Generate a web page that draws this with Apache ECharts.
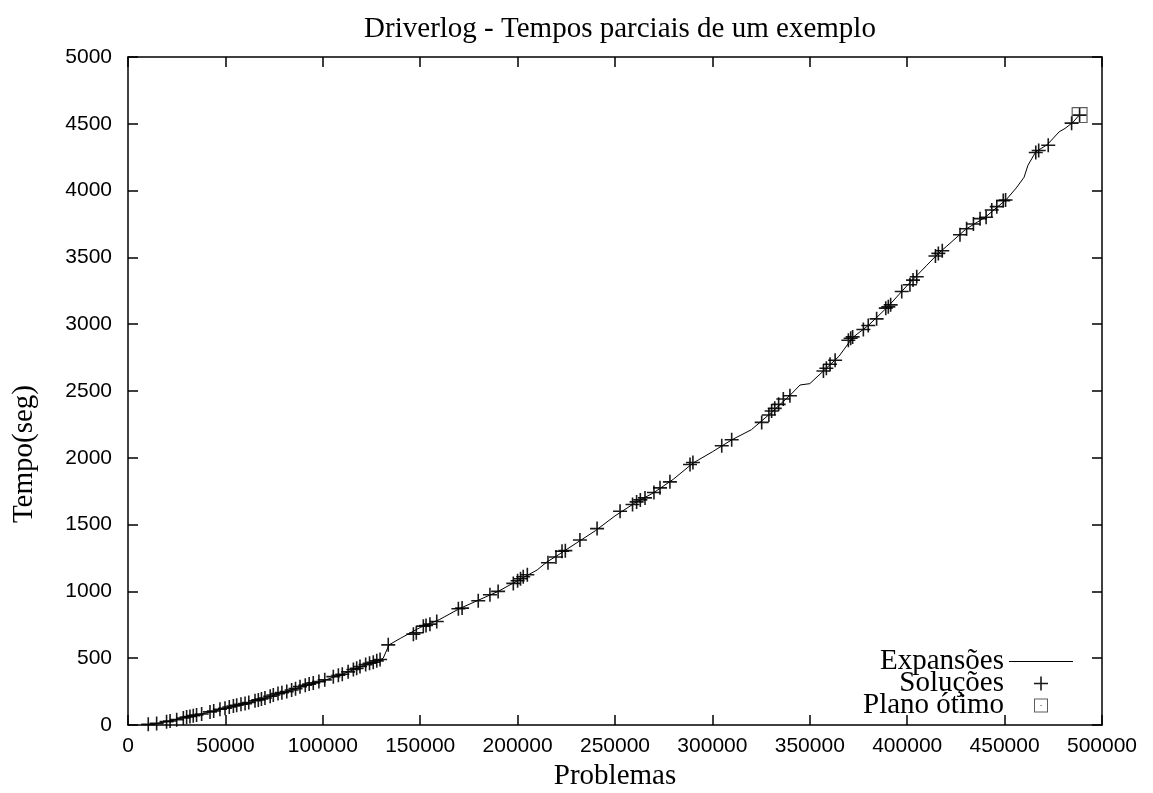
<!DOCTYPE html>
<html lang="pt">
<head>
<meta charset="UTF-8">
<title>Driverlog</title>
<script src="https://cdn.jsdelivr.net/npm/echarts@6/dist/echarts.min.js"></script>
<style>
  html, body { margin: 0; padding: 0; background: #fff; }
  #chart { width: 1153px; height: 793px; }
</style>
</head>
<body>
<div id="chart"></div>
<script>
// curva de expansões (problemas, tempo)
var expansoes = [
  [10000, 0], [20000, 25], [30000, 60], [40000, 90], [50000, 125], [60000, 160],
  [70000, 200], [80000, 245], [90000, 290], [100000, 330], [110000, 380], [120000, 440],
  [128000, 480], [131000, 500], [134000, 600], [140000, 650], [145000, 690], [150000, 730],
  [160000, 790], [170000, 870], [180000, 935], [190000, 1000], [200000, 1080], [205000, 1120],
  [210000, 1160], [215000, 1220], [220000, 1265], [230000, 1360], [240000, 1455], [250000, 1565],
  [260000, 1660], [270000, 1740], [280000, 1840], [290000, 1960], [300000, 2045], [310000, 2135],
  [320000, 2210], [330000, 2335], [340000, 2470], [345000, 2545], [350000, 2555], [357000, 2650],
  [365000, 2760], [372000, 2900], [380000, 2990], [390000, 3130], [400000, 3290], [410000, 3440],
  [416000, 3530], [420000, 3580], [430000, 3710], [440000, 3800], [451000, 3935], [456000, 4020],
  [460000, 4100], [462000, 4190], [466000, 4290], [472000, 4345], [478000, 4440], [481000, 4465],
  [485000, 4510], [488000, 4560]
];

// soluções encontradas
var solucoes = [
  [10400, 5], [14700, 12], [19800, 25], [21600, 30], [25000, 40], [28400, 52], [30100, 60],
  [31800, 64], [33500, 70], [35200, 75], [37800, 82], [42100, 98], [44000, 105], [47200, 118],
  [49800, 125], [52000, 135], [54100, 142], [55800, 148], [58000, 155], [60100, 160], [62000, 168],
  [65200, 182], [66900, 188], [68500, 195], [70300, 202], [73000, 215], [74600, 225], [77000, 235],
  [79000, 242], [81500, 250], [84000, 262], [86000, 272], [88300, 287], [91000, 298], [93000, 306],
  [95100, 315], [98000, 325], [101000, 338], [105400, 362], [108000, 372], [110000, 380],
  [113000, 398], [115700, 415], [117400, 424], [119100, 438], [122000, 452], [124000, 462],
  [125900, 470], [127700, 480], [129400, 490], [133600, 600],
  [146500, 680], [148000, 690], [151600, 740], [153000, 745], [155000, 755], [158500, 775],
  [169600, 870], [171500, 875], [179800, 930], [185800, 975], [190000, 1000], [197800, 1060],
  [200000, 1080], [201500, 1095], [202900, 1110], [205000, 1125],
  [215600, 1215], [219700, 1258], [222800, 1300], [224500, 1305], [232000, 1385], [240800, 1470],
  [252600, 1600], [259000, 1650], [261100, 1670], [263000, 1685], [265400, 1700], [270000, 1740],
  [273100, 1775], [278200, 1820], [288500, 1950], [290000, 1965], [304800, 2090], [309900, 2135],
  [325300, 2265], [329000, 2320], [330400, 2350], [332000, 2370], [334000, 2400], [336400, 2440],
  [339800, 2465], [357000, 2650], [358500, 2670], [360400, 2700], [363000, 2730], [369800, 2880],
  [371000, 2895], [372000, 2905], [377500, 2960], [380000, 2990], [384300, 3040], [389000, 3120],
  [390300, 3130], [391500, 3145], [397200, 3245], [401400, 3295], [403000, 3330], [404900, 3355],
  [414500, 3510], [416000, 3530], [418000, 3550], [427100, 3670], [430500, 3715], [434000, 3750],
  [437400, 3790], [440500, 3800], [443400, 3855], [446000, 3880], [449300, 3925], [450500, 3930],
  [466000, 4285], [467500, 4300], [472400, 4340], [484400, 4505], [488500, 4565]
];

// plano ótimo
var planoOtimo = [[488500, 4565]];

var xTicks = { min: 0, max: 500000, step: 50000 };
var yTicks = { min: 0, max: 5000, step: 500 };

var plusIcon = 'path://M6.2,0H7.8V6.2H14V7.8H7.8V14H6.2V7.8H0V6.2H6.2Z';
var boxIcon = 'path://M0,0H14V14H0Z M1,1V13H13V1Z M6.4,6.4H7.6V7.6H6.4Z';
var lineIcon = 'path://M0,0H64V1H0Z';

var serif = '"Liberation Serif", "DejaVu Serif", serif';
var sans = '"Liberation Sans", Arial, sans-serif';

var axisLine = { show: true, onZero: false, lineStyle: { color: '#000', width: 1.5 } };
var axisTick = { show: true, inside: true, length: 10, lineStyle: { color: '#000', width: 1.5 } };
var plain = function (v) { return String(v); };

var chart = echarts.init(document.getElementById('chart'));
var option = {
  animation: false,
  backgroundColor: '#fff',
  title: {
    text: 'Driverlog - Tempos parciais de um exemplo',
    left: 615, top: 10, textAlign: 'center',
    textStyle: { fontFamily: serif, fontSize: 29, fontWeight: 'normal', color: '#000' }
  },
  graphic: [{
    type: 'text', left: 10, top: 385, rotation: Math.PI / 2,
    style: { text: 'Tempo(seg)', fontFamily: serif, fontSize: 29, fill: '#000' }
  }],
  grid: { left: 128, right: 51, top: 57, bottom: 68, outerBoundsMode: 'none' },
  legend: {
    orient: 'vertical', align: 'right', right: 75, bottom: 68,
    itemWidth: 64, itemHeight: 14, itemGap: -7,
    textStyle: { fontFamily: serif, fontSize: 29, color: '#000', lineHeight: 22 },
    data: [
      { name: 'Expansões', icon: lineIcon },
      { name: 'Soluções', icon: plusIcon },
      { name: 'Plano ótimo', icon: boxIcon }
    ]
  },
  xAxis: [{
    type: 'value', min: xTicks.min, max: xTicks.max, interval: xTicks.step,
    name: 'Problemas', nameLocation: 'middle', nameGap: 36,
    nameTextStyle: { fontFamily: serif, fontSize: 29, color: '#000' },
    axisLine: axisLine, axisTick: axisTick, splitLine: { show: false },
    axisLabel: { fontFamily: sans, fontSize: 21, color: '#000', margin: 11, formatter: plain }
  }, {
    type: 'value', position: 'top', min: xTicks.min, max: xTicks.max, interval: xTicks.step,
    axisLine: axisLine, axisTick: axisTick, splitLine: { show: false }, axisLabel: { show: false }
  }],
  yAxis: [{
    type: 'value', min: yTicks.min, max: yTicks.max, interval: yTicks.step,
    axisLine: axisLine, axisTick: axisTick, splitLine: { show: false },
    axisLabel: { fontFamily: sans, fontSize: 21, color: '#000', margin: 16, formatter: plain }
  }, {
    type: 'value', position: 'right', min: yTicks.min, max: yTicks.max, interval: yTicks.step,
    axisLine: axisLine, axisTick: axisTick, splitLine: { show: false }, axisLabel: { show: false }
  }],
  series: [{
    name: 'Expansões', type: 'line', data: expansoes,
    showSymbol: false, symbol: 'none',
    lineStyle: { color: '#000', width: 1 }, itemStyle: { color: '#000' }
  }, {
    name: 'Soluções', type: 'scatter', data: solucoes,
    symbol: plusIcon, symbolSize: 14,
    itemStyle: { color: '#000', opacity: 0.9 }
  }, {
    name: 'Plano ótimo', type: 'scatter', data: planoOtimo,
    symbol: boxIcon, symbolSize: 16,
    itemStyle: { color: '#333' }
  }]
};
chart.setOption(option);
</script>
</body>
</html>
